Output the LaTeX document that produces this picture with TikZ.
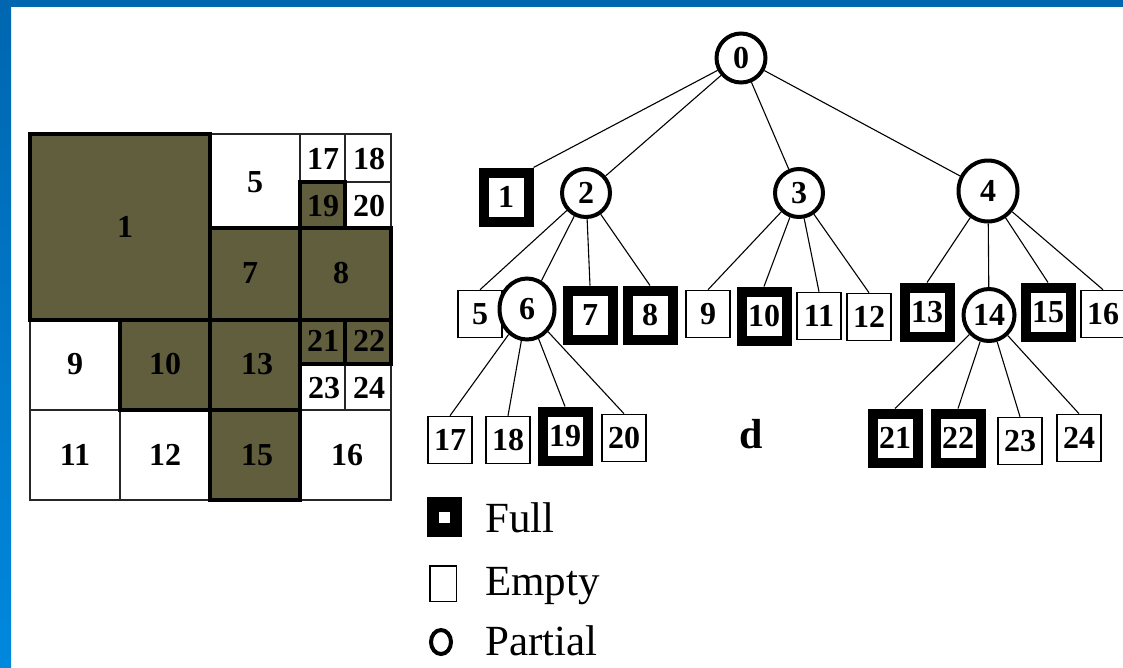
\documentclass[tikz,border=0pt]{standalone}
\usepackage{fontspec}
\setmainfont{Liberation Serif}
\usetikzlibrary{shapes.geometric}
\definecolor{slideblue}{RGB}{0,102,176}
\definecolor{slidebluelow}{RGB}{0,136,221}
\definecolor{blockolive}{RGB}{97,94,62}
\begin{document}
\begin{tikzpicture}[x=1pt,y=-1pt,
  cell/.style={draw=black!85, line width=1.4pt},
  fullcell/.style={draw=black, fill=blockolive, line width=3.5pt},
  numtext/.style={font=\fontsize{32}{34}\selectfont\bfseries, inner sep=0pt},
  emptybox/.style={draw, line width=1.6pt, fill=white, inner sep=0pt,
    minimum width=44pt, minimum height=47pt, font=\fontsize{32}{34}\selectfont\bfseries},
  fullbox/.style={draw, line width=10pt, fill=white, inner sep=0pt,
    minimum width=45pt, minimum height=49pt, font=\fontsize{32}{34}\selectfont\bfseries},
  partnode/.style={ellipse, draw, line width=4pt, fill=white, inner sep=0pt,
    minimum width=48pt, minimum height=48pt, font=\fontsize{32}{34}\selectfont\bfseries},
  link/.style={line width=1.1pt},
  legtext/.style={font=\fontsize{43}{46}\selectfont, inner sep=0pt}
]
\useasboundingbox (0,0) rectangle (1123,667);
\fill[white] (0,0) rectangle (1123,667);
\fill[slideblue] (0,0) rectangle (1123,7);
\shade[top color=slideblue, bottom color=slidebluelow] (0,0) rectangle (11,667);

% quadtree grid
\draw[cell] (210,134) rectangle (300,228);
\draw[cell] (300,134) rectangle (345,182);
\draw[cell] (345,134) rectangle (391,182);
\draw[cell] (345,182) rectangle (391,228);
\draw[cell] (30,320) rectangle (120,410);
\draw[cell] (300,364) rectangle (345,410);
\draw[cell] (345,364) rectangle (391,410);
\draw[cell] (30,410) rectangle (120,500);
\draw[cell] (120,410) rectangle (210,500);
\draw[cell] (300,410) rectangle (391,500);
\draw[fullcell] (30,134) rectangle (210,320);
\draw[fullcell] (300,182) rectangle (345,228);
\draw[fullcell] (210,228) rectangle (300,320);
\draw[fullcell] (300,228) rectangle (391,320);
\draw[fullcell] (120,320) rectangle (210,410);
\draw[fullcell] (210,320) rectangle (300,410);
\draw[fullcell] (300,320) rectangle (345,364);
\draw[fullcell] (345,320) rectangle (391,364);
\draw[fullcell] (210,410) rectangle (300,500);

\foreach \t/\x/\y in {1/125/227, 5/255/182, 7/250/273, 8/341/273,
    9/75/364, 10/165/364, 13/257/364, 11/75/455, 12/165/455, 15/257/455,
    16/347/455, 17/323/159, 18/369/159, 19/323/206, 20/369/206,
    21/323/341, 22/369/341, 23/324/388, 24/369/388}
  \node[numtext] (g\t) at (\x,\y) {\t};

% tree
\node[partnode, minimum width=49pt, minimum height=49pt] (n0) at (741,58) {0};

\node[fullbox] (n1) at (506,197) {1};
\node[partnode] (n2) at (586,193) {2};
\node[partnode] (n3) at (799,193) {3};
\node[partnode, minimum width=59pt, minimum height=61pt] (n4) at (988,191) {4};

\node[emptybox] (n5) at (480,314) {5};
\node[partnode, minimum width=55pt, minimum height=61pt] (n6) at (527,309) {6};
\node[fullbox] (n7) at (590,315) {7};
\node[fullbox] (n8) at (650,315) {8};
\node[emptybox] (n9) at (708,314) {9};
\node[fullbox] (n10) at (764,316) {10};
\node[emptybox] (n11) at (819,316) {11};
\node[emptybox] (n12) at (869,317) {12};
\node[fullbox] (n13) at (927,312) {13};
\node[partnode, minimum width=51pt, minimum height=52pt] (n14) at (989,315) {14};
\node[fullbox] (n15) at (1048,312) {15};
\node[emptybox] (n16) at (1103,314) {16};

\node[emptybox] (n17) at (450,440) {17};
\node[emptybox] (n18) at (508,440) {18};
\node[fullbox] (n19) at (565,436) {19};
\node[emptybox] (n20) at (624,438) {20};
\node[fullbox] (n21) at (895,438) {21};
\node[fullbox] (n22) at (958,438) {22};
\node[emptybox] (n23) at (1020,441) {23};
\node[emptybox] (n24) at (1079,438) {24};

\draw[link] (n0) -- (n1.north east);
\draw[link] (n0) -- (n2);
\draw[link] (n0) -- (n3);
\draw[link] (n0) -- (n4);
\draw[link] (n2) -- (n5.north);
\draw[link] (n2) -- (n6);
\draw[link] (n2) -- (n7.north);
\draw[link] (n2) -- (n8.north);
\draw[link] (n3) -- (n9.north);
\draw[link] (n3) -- (n10.north);
\draw[link] (n3) -- (n11.north);
\draw[link] (n3) -- (n12.north);
\draw[link] (n4) -- (n13.north);
\draw[link] (n4) -- (n14);
\draw[link] (n4) -- (n15.north);
\draw[link] (n4) -- (n16.north);
\draw[link] (n6) -- (n17.north);
\draw[link] (n6) -- (n18.north);
\draw[link] (n6) -- (n19.north);
\draw[link] (n6) -- (n20.north);
\draw[link] (n14) -- (n21.north);
\draw[link] (n14) -- (n22.north);
\draw[link] (n14) -- (n23.north);
\draw[link] (n14) -- (n24.north);

\node[font=\fontsize{42}{44}\selectfont\bfseries, inner sep=0pt] (dlabel) at (751,434) {d};

% legend
\fill (427,497) rectangle (462,537);
\fill[white] (439,512) rectangle (450,523);
\node[legtext, anchor=base west] (kfull) at (485,532) {Full};
\draw[line width=1.5pt] (429.75,565.75) rectangle (456.25,601.25);
\node[legtext, anchor=base west] (kempty) at (485,595) {Empty};
\draw[line width=4pt] (441,642) ellipse [x radius=10, y radius=12];
\node[legtext, anchor=base west] (kpartial) at (485,655) {Partial};

\end{tikzpicture}
\end{document}
